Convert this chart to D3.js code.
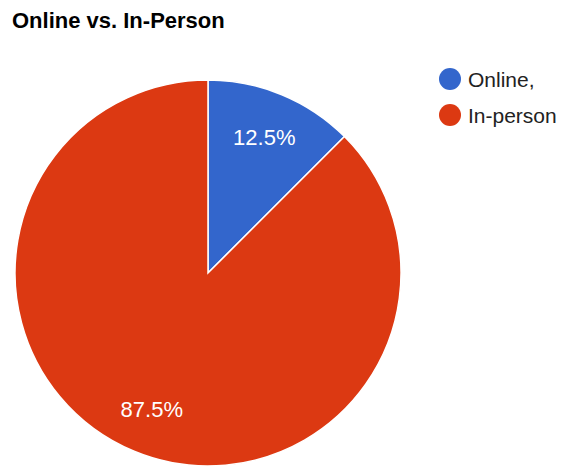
<!DOCTYPE html>
<html>
<head>
    <title>Online vs. In-Person</title>
    <script src="https://cdnjs.cloudflare.com/ajax/libs/d3/7.8.5/d3.min.js"></script>
    <style>
        html, body {
            margin: 0;
            padding: 0;
            background: #ffffff;
            font-family: Arial, "Liberation Sans", sans-serif;
        }
    </style>
</head>
<body>
    <div id="chart"></div>
    <script>
        const categories = ["Online,", "In-person"];
        const values = [12.5, 87.5];
        const colors = ["#3366cc", "#dc3912"];

        const width = 564, height = 466;
        const cx = 208, cy = 273, radius = 193;

        const svg = d3.select("#chart")
            .append("svg")
            .attr("width", width)
            .attr("height", height);

        svg.append("text")
            .attr("x", 12)
            .attr("y", 28)
            .text("Online vs. In-Person")
            .style("font-size", "22px")
            .style("font-weight", "bold")
            .style("fill", "#000");

        const pie = d3.pie().sort(null).value(d => d);
        const arc = d3.arc().innerRadius(0).outerRadius(radius);
        const labelArc = d3.arc().innerRadius(147).outerRadius(147);

        const g = svg.append("g")
            .attr("transform", "translate(" + cx + "," + cy + ")");

        const slices = pie(values);

        g.selectAll("path")
            .data(slices)
            .enter()
            .append("path")
            .attr("d", arc)
            .attr("fill", (d, i) => colors[i])
            .attr("stroke", "#fff")
            .attr("stroke-width", 1.5);

        g.selectAll("text.label")
            .data(slices)
            .enter()
            .append("text")
            .attr("class", "label")
            .attr("transform", d => "translate(" + labelArc.centroid(d) + ")")
            .attr("text-anchor", "middle")
            .attr("dy", "0.36em")
            .style("font-size", "22px")
            .style("fill", "#fff")
            .text(d => d.data + "%");

        // legend
        const legend = svg.append("g");
        categories.forEach((c, i) => {
            legend.append("circle")
                .attr("cx", 450)
                .attr("cy", 79 + i * 36)
                .attr("r", 11)
                .attr("fill", colors[i]);
            legend.append("text")
                .attr("x", 468)
                .attr("y", 79 + i * 36)
                .attr("dy", "0.36em")
                .style("font-size", "21px")
                .style("fill", "#222")
                .text(c);
        });
    </script>
</body>
</html>
